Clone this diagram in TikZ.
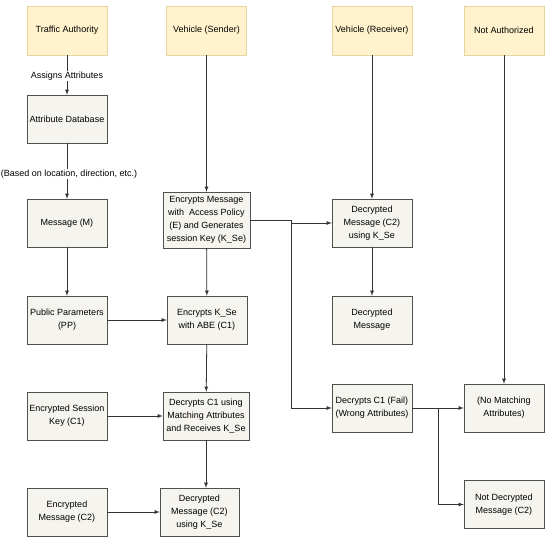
\documentclass[tikz,border=0pt]{standalone}
\usepackage{fontspec}
\setmainfont{Liberation Sans}
\usepackage{tikz}
\usetikzlibrary{arrows,positioning}
\definecolor{headfill}{HTML}{FFF2CC}
\definecolor{headline}{HTML}{E6D5A0}
\definecolor{boxfill}{HTML}{F5F4EE}
\definecolor{boxline}{HTML}{505050}
\definecolor{wire}{HTML}{333333}

\begin{document}
\begin{tikzpicture}
		[x=1pt,y=-1pt,
		head node/.style={draw=headline,fill=headfill,minimum width=80pt,minimum height=49pt,inner sep=1pt,align=center,font=\fontsize{9}{13}\selectfont},
		main node/.style={draw=boxline,fill=boxfill,minimum width=80pt,minimum height=48pt,inner sep=1pt,align=center,font=\fontsize{9}{13}\selectfont},
		link/.style={draw=wire,line width=0.8pt,-latex},
		tag/.style={fill=white,inner sep=1pt,font=\fontsize{9}{11}\selectfont}]
		\useasboundingbox (0,0) rectangle (550,543);
		
		% column heads
		\node[head node] (ta) at (67,30.5) {Traffic Authority};
		\node[head node] (vs) at (206.5,30.5) {Vehicle (Sender)};
		\node[head node] (vr) at (372,30.5) {Vehicle (Receiver)};
		\node[head node] (na) at (504,30.5) {Not Authorized};
		
		\node[main node] (adb) at (67,119) {Attribute Database};
		\node[main node] (msg) at (67,223) {Message (M)};
		\node[main node] (pp) at (67,320) {Public Parameters\\(PP)};
		\node[main node] (esk) at (67,416) {Encrypted Session\\Key (C1)};
		\node[main node] (emc) at (67,512) {Encrypted\\Message (C2)};
		
		\node[main node,minimum width=87pt,minimum height=56pt] (encm) at (206.5,220) {Encrypts Message\\with\ \ Access Policy\\(E) and Generates\\session Key (K\_Se)};
		\node[main node] (enck) at (207,320) {Encrypts K\_Se\\with ABE (C1)};
		\node[main node,minimum width=86pt] (dec) at (206,416) {Decrypts C1 using\\Matching Attributes\\and Receives K\_Se};
		\node[main node,minimum width=79pt] (dms) at (199.5,512) {Decrypted\\Message (C2)\\using K\_Se};
		
		\node[main node] (dmr) at (372,223) {Decrypted\\Message (C2)\\using K\_Se};
		\node[main node] (dout) at (372,320) {Decrypted\\Message};
		\node[main node] (fail) at (372,408) {Decrypts C1 (Fail)\\(Wrong Attributes)};
		
		\node[main node] (nma) at (504,408) {(No Matching\\Attributes)};
		\node[main node] (ndm) at (504,504.5) {Not Decrypted\\Message (C2)};
		
		\draw[link] (ta) to node [tag,pos=.52] {Assigns Attributes} (adb);
		\draw[link] (adb) to node [tag,pos=.55,xshift=2pt] {(Based on location, direction, etc.)} (msg);
		\draw[link] (msg) to (pp);
		\draw[link] (pp) to (enck);
		\draw[link] (esk) to (dec);
		\draw[link] (emc) to (dms);
		
		\draw[link] (vs) to (encm);
		\draw[link] (encm) to (enck);
		\draw[link] (enck) to (dec);
		\draw[link] (dec.south) to (dec.south |- dms.north);
		
		\draw[link] (encm.east) -- ++(41,0) |- (dmr.west);
		\draw[link] (encm.east) -- ++(41,0) |- (fail.west);
		\draw[link] (vr) to (dmr);
		\draw[link] (dmr) to (dout);
		
		\draw[link] (na) to (nma);
		\draw[link] (fail) to (nma);
		\draw[link] (fail.east) -- ++(26,0) |- (ndm.west);
		\end{tikzpicture}
\end{document}
